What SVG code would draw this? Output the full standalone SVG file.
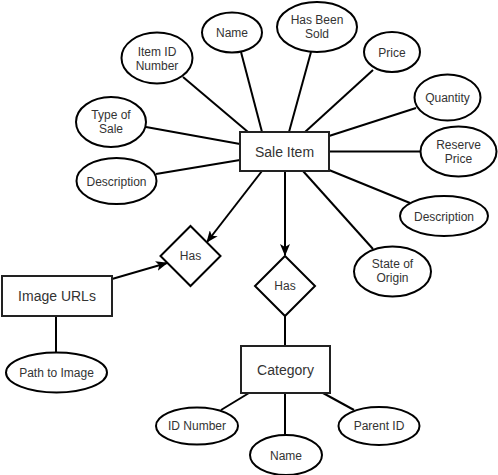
<svg xmlns="http://www.w3.org/2000/svg" width="498" height="475" viewBox="0 0 498 475">
<style>
.s{fill:#fff;stroke:#000;stroke-width:2}
.r{fill:#fff;stroke:#222;stroke-width:2}
.c line{stroke:#000;stroke-width:2}
text{font-family:"Liberation Sans",Arial,sans-serif;font-size:12px;fill:#333;text-anchor:middle}
.big{font-size:14px}
</style>
<defs>
<marker id="a" viewBox="0 0 12 10" refX="11" refY="5" markerWidth="12" markerHeight="10" markerUnits="userSpaceOnUse" orient="auto">
<path d="M0,0 L12,5 L0,10 L3,5 Z" fill="#000"/>
</marker>
</defs>
<rect width="498" height="475" fill="#fff"/>
<g class="c" id="connectors">
<line x1="183" y1="77" x2="248" y2="132"/>
<line x1="241" y1="52" x2="262" y2="132"/>
<line x1="311" y1="52" x2="289" y2="132"/>
<line x1="373" y1="70" x2="305" y2="132"/>
<line x1="416" y1="108" x2="329" y2="136"/>
<line x1="329" y1="151.5" x2="421" y2="151.5"/>
<line x1="329" y1="170" x2="410" y2="203"/>
<line x1="303" y1="171" x2="373" y2="249"/>
<line x1="146" y1="127" x2="240" y2="144"/>
<line x1="156" y1="174" x2="240" y2="160"/>
<line x1="285" y1="171" x2="285" y2="255" marker-end="url(#a)"/>
<line x1="262" y1="171" x2="207" y2="242" marker-end="url(#a)"/>
<line x1="112" y1="279" x2="167" y2="263" marker-end="url(#a)"/>
<line x1="56" y1="316" x2="56" y2="353"/>
<line x1="285" y1="316" x2="285" y2="346"/>
<line x1="249" y1="393" x2="221" y2="410"/>
<line x1="285" y1="393" x2="285" y2="435"/>
<line x1="323" y1="393" x2="354" y2="410"/>
</g>
<g id="sale-item"><rect class="r" x="240" y="132" width="89" height="39"/><text class="big" x="284.5" y="156.5">Sale Item</text></g>
<g id="name"><ellipse class="s" cx="232" cy="32.5" rx="30" ry="20"/><text x="232" y="37">Name</text></g>
<g id="item-id"><ellipse class="s" cx="157" cy="58" rx="35.5" ry="25.5"/><text x="157" y="55.5">Item ID</text><text x="157" y="69.5">Number</text></g>
<g id="has-been-sold"><ellipse class="s" cx="317" cy="27" rx="40" ry="25"/><text x="317" y="24">Has Been</text><text x="317" y="38">Sold</text></g>
<g id="price"><ellipse class="s" cx="392" cy="52" rx="28" ry="20"/><text x="392" y="57">Price</text></g>
<g id="quantity"><ellipse class="s" cx="447.5" cy="97.5" rx="33" ry="23"/><text x="447.5" y="102">Quantity</text></g>
<g id="reserve-price"><ellipse class="s" cx="458.5" cy="151.5" rx="38" ry="25"/><text x="458.5" y="149">Reserve</text><text x="458.5" y="163">Price</text></g>
<g id="description-right"><ellipse class="s" cx="444" cy="216" rx="44" ry="20"/><text x="444" y="221">Description</text></g>
<g id="state-of-origin"><ellipse class="s" cx="392.5" cy="271.5" rx="38.5" ry="25"/><text x="392.5" y="268">State of</text><text x="392.5" y="282">Origin</text></g>
<g id="type-of-sale"><ellipse class="s" cx="111" cy="122" rx="35" ry="25"/><text x="111" y="119">Type of</text><text x="111" y="133">Sale</text></g>
<g id="description-left"><ellipse class="s" cx="116.5" cy="181" rx="40" ry="23"/><text x="116.5" y="186">Description</text></g>
<g id="has-1"><polygon class="s" points="190.5,226 220.5,256 190.5,286 160.5,256"/><text x="190.5" y="260">Has</text></g>
<g id="image-urls"><rect class="r" x="2" y="276" width="110" height="40"/><text class="big" x="57" y="301">Image URLs</text></g>
<g id="path-to-image"><ellipse class="s" cx="56.5" cy="372.5" rx="50.5" ry="20"/><text x="56.5" y="377">Path to Image</text></g>
<g id="has-2"><polygon class="s" points="285,256 315,286 285,316 255,286"/><text x="285" y="290">Has</text></g>
<g id="category"><rect class="r" x="241" y="346" width="89" height="47"/><text class="big" x="285.5" y="375">Category</text></g>
<g id="id-number"><ellipse class="s" cx="197" cy="426" rx="41" ry="18.5"/><text x="197" y="430">ID Number</text></g>
<g id="name-2"><ellipse class="s" cx="286" cy="455" rx="36" ry="20"/><text x="286" y="460">Name</text></g>
<g id="parent-id"><ellipse class="s" cx="379" cy="426" rx="40.5" ry="19"/><text x="379" y="430">Parent ID</text></g>
</svg>
